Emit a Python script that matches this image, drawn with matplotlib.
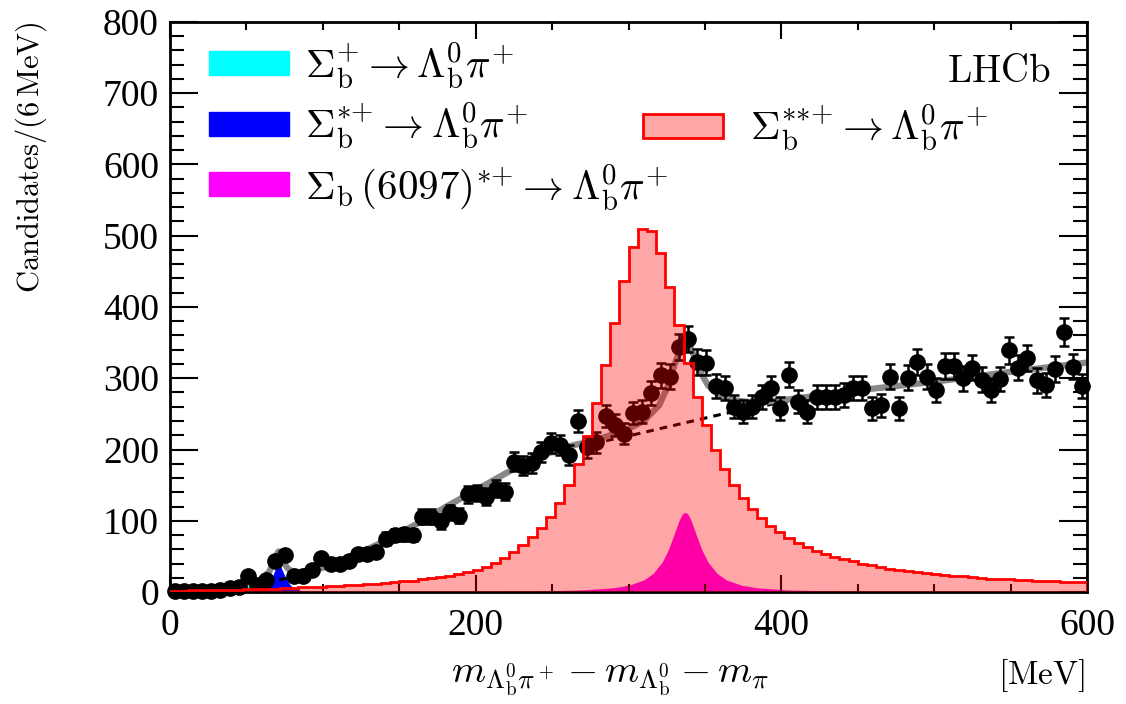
import numpy as np
import matplotlib
matplotlib.use('Agg')
import matplotlib.pyplot as plt
from matplotlib.patches import Patch
from matplotlib.ticker import MultipleLocator

plt.rcParams['font.family'] = ['Liberation Serif', 'DejaVu Serif']
plt.rcParams['mathtext.fontset'] = 'cm'

# data: candidates per 6 MeV bin, 0..600 MeV
counts = [1, 1, 2, 1, 2, 3, 6, 7, 22, 10,
          17, 44, 52, 23, 23, 31, 48, 40, 40, 43,
          53, 54, 56, 75, 80, 81, 80, 106, 106, 99,
          112, 107, 137, 139, 134, 145, 141, 183, 177, 181,
          197, 209, 206, 192, 240, 203, 210, 247, 234, 222,
          251, 253, 279, 304, 302, 344, 355, 323, 322, 289,
          286, 260, 253, 260, 274, 286, 258, 305, 267, 253,
          274, 274, 274, 276, 286, 286, 258, 262, 302, 258,
          301, 323, 302, 284, 317, 317, 300, 315, 298, 283,
          299, 339, 315, 328, 297, 290, 313, 365, 316, 289]

# Sigma_b** template histogram (same binning)
sigma_ss = [2, 2, 2.5, 2.5, 3, 3, 3.5, 3.5, 4, 4.5,
            5, 5, 5.5, 6, 6.5, 7, 7.5, 8, 9, 9.5,
            10, 11, 12, 13, 14, 15, 16, 18, 19.5, 21,
            23, 25.5, 28, 31, 35, 41, 48, 56, 66, 77,
            90, 105, 125, 150, 180, 219, 265, 319, 377, 436,
            484, 510, 507, 476, 428, 374, 322, 274, 234, 199,
            173, 150, 132, 117, 104, 93, 84, 76, 69, 63,
            58, 53, 49, 46, 43, 40, 37.5, 35, 33, 31,
            29.5, 28, 26.5, 25, 24, 23, 22, 21, 20, 19,
            18.5, 18, 17, 16.5, 16, 15.5, 15, 14.5, 14, 13.5]

# fit components
cyan_x = [49.8, 50.6, 51.4, 52.2, 53.0]
cyan_y = [0, 6, 12, 6, 0]

blue_x = [56, 60, 63, 65, 67, 69, 70, 71, 72, 73, 75, 77, 79, 82, 86, 92]
blue_y = [1, 3, 7, 13, 22, 33, 39, 42, 39, 33, 23, 15, 9, 5, 2, 0.5]

mag_x = [150, 200, 240, 270, 290, 300, 310, 316, 322, 326, 330, 333, 335, 337,
         339, 341, 344, 348, 352, 358, 364, 374, 384, 404, 444, 500, 600]
mag_y = [0.4, 0.8, 1.5, 3, 6, 9.5, 17, 26, 42, 59, 82, 100, 109, 112,
         109, 100, 82, 59, 42, 26, 17, 9.5, 6, 3, 1.2, 0.5, 0.2]

bkg_x = [0, 20, 40, 60, 80, 100, 120, 140, 160, 180, 200, 220, 240, 260,
         280, 300, 320, 340, 360, 380, 400, 450, 500, 550, 600]
bkg_y = [0, 2, 6, 12, 21, 33, 50, 70, 93, 118, 142, 166, 187, 200,
         210, 219, 229, 239, 249, 258, 266, 281, 294, 308, 322]

tot_x = [0, 20, 40, 46, 49, 50.6, 51.4, 52.2, 54, 58, 62, 65, 67, 69, 71, 73,
         75, 77, 80, 85, 90, 100, 120, 140, 160, 180, 200, 220, 240, 260, 280,
         300, 310, 320, 326, 330, 334, 337, 340, 344, 348, 352, 358, 364, 370,
         377, 390, 400, 450, 500, 550, 600]
tot_y = [0, 2, 6, 8, 9.5, 14, 19, 14, 12, 16, 22, 29, 38, 49, 57, 50,
         40, 33, 29, 28, 30, 34, 51, 71, 94, 119, 143, 167, 189, 204, 214,
         229, 240, 262, 290, 318, 342, 350, 346, 325, 305, 290, 278, 272, 269,
         267, 267, 269, 283, 295, 309, 322]

labels = [r'$\Sigma_\mathrm{b}^{+} \rightarrow \Lambda_\mathrm{b}^0\pi^{+}$',
          r'$\Sigma_\mathrm{b}^{{*}{+}} \rightarrow \Lambda_\mathrm{b}^0\pi^{+}$',
          r'$\Sigma_\mathrm{b}\,(6097)^{{*}{+}} \rightarrow \Lambda_\mathrm{b}^0\pi^{+}$',
          r'$\Sigma_\mathrm{b}^{{*}{*}{+}} \rightarrow \Lambda_\mathrm{b}^0\pi^{+}$']

edges = np.arange(0, 601, 6)
centres = edges[:-1] + 3

fig = plt.figure(figsize=(11.26, 7.04), dpi=100)
ax = fig.add_axes([0.151, 0.159, 0.8144, 0.810])

ax.fill_between(mag_x, mag_y, color='magenta', lw=0, zorder=1)
ax.fill_between(blue_x, blue_y, color='blue', lw=0, zorder=1)
ax.fill_between(cyan_x, cyan_y, color='cyan', lw=0, zorder=1)
ax.plot(bkg_x, bkg_y, color='k', ls='--', lw=2.2, dashes=(2.5, 2), zorder=2)
ax.plot(tot_x, tot_y, color='#888888', lw=4.5, zorder=2)
ax.errorbar(centres, counts, yerr=np.sqrt(counts), fmt='o', color='k', ms=11,
            elinewidth=1.8, capsize=3.5, capthick=1.8, zorder=3, clip_on=False)
ax.stairs(sigma_ss, edges, fill=True, color='red', alpha=0.35, lw=0, zorder=4)
ax.stairs(sigma_ss, edges, color='red', lw=2, zorder=5)

ax.set_xlim(0, 600)
ax.set_ylim(0, 800)
ax.xaxis.set_major_locator(MultipleLocator(200))
ax.xaxis.set_minor_locator(MultipleLocator(50))
ax.yaxis.set_major_locator(MultipleLocator(100))
ax.yaxis.set_minor_locator(MultipleLocator(20))
ax.tick_params(which='both', direction='in', top=True, right=True, width=1.5,
               labelsize=27)
ax.tick_params(axis='x', which='major', length=12, pad=12)
ax.tick_params(axis='x', which='minor', length=6)
ax.tick_params(axis='y', which='major', length=20, pad=8)
ax.tick_params(axis='y', which='minor', length=10)
for s in ax.spines.values():
    s.set_linewidth(2)

handles = [Patch(color='cyan'), Patch(color='blue'), Patch(color='magenta')]
leg1 = ax.legend(handles, labels[:3], loc='upper left', bbox_to_anchor=(0.043, 0.968),
                 frameon=False, fontsize=29.5, handlelength=1.95, handleheight=0.54,
                 handletextpad=0.38, labelspacing=0.25, borderaxespad=0, borderpad=0)
ax.add_artist(leg1)
ax.legend([Patch(facecolor=(1, 0, 0, 0.35), edgecolor='red', lw=2)], labels[3:],
          loc='upper left', bbox_to_anchor=(0.516, 0.858), frameon=False,
          fontsize=29.5, handlelength=1.95, handleheight=0.54, handletextpad=0.65,
          borderaxespad=0, borderpad=0)

ax.text(0.904, 0.912, r'$\mathrm{LHCb}$', transform=ax.transAxes,
        ha='center', va='center', fontsize=28)
fig.text(0.542, 0.035, r'$m_{\Lambda_\mathrm{b}^0\pi^+} - m_{\Lambda_\mathrm{b}^0} - m_\pi$',
         ha='center', va='center', fontsize=28)
fig.text(0.9636, 0.04, r'$[\mathrm{MeV}]$', ha='right', va='center', fontsize=24)
fig.text(0.028, 0.969, r'$\mathrm{Candidates/(6\,MeV)}$', rotation=90,
         ha='center', va='top', fontsize=22)

fig.savefig('out.png', dpi=100)
